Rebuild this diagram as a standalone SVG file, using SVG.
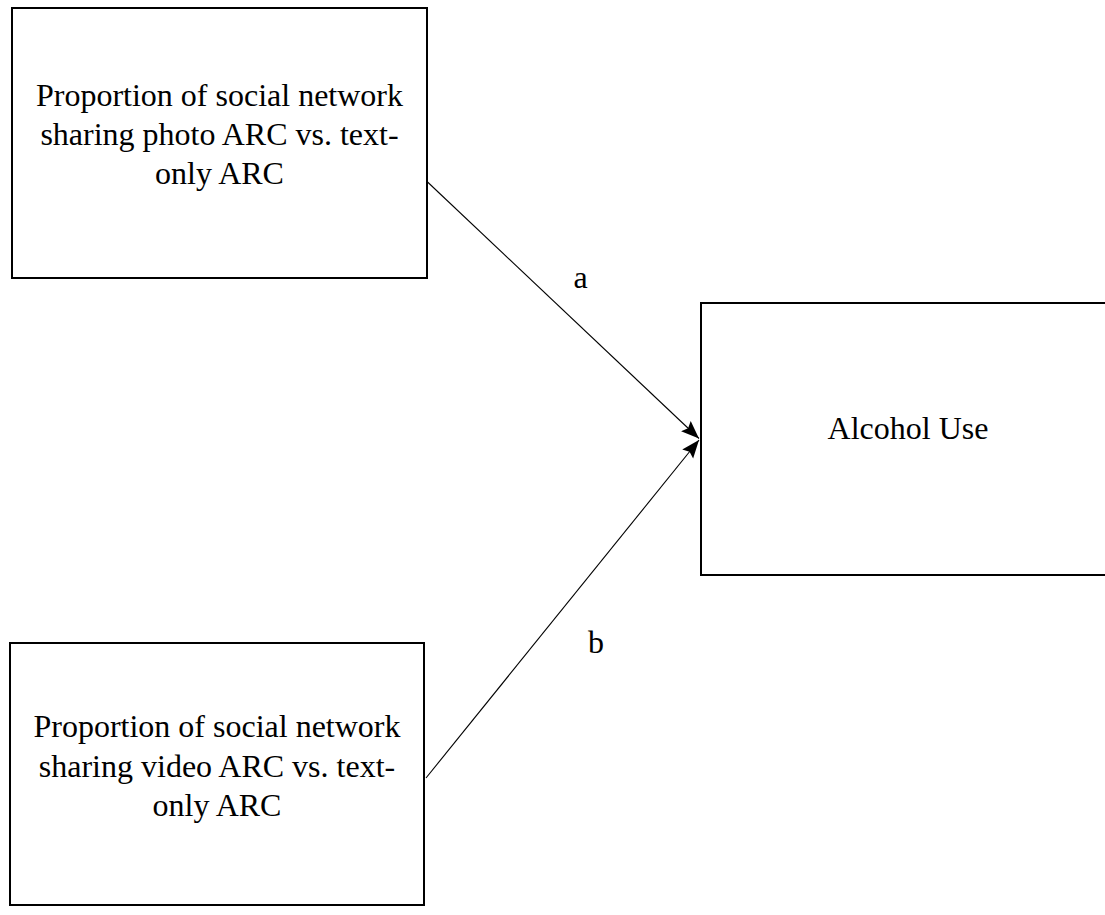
<svg xmlns="http://www.w3.org/2000/svg" width="1105" height="915" viewBox="0 0 1105 915">
  <style>
    .box { fill: #ffffff; stroke: #000000; stroke-width: 2; }
    .label { font-family: "Liberation Serif", "Times New Roman", serif; font-size: 32px; fill: #000000; text-anchor: middle; }
    .edge { stroke: #000000; stroke-width: 1.1; fill: none; marker-end: url(#arrow); }
  </style>
  <defs>
    <marker id="arrow" markerUnits="userSpaceOnUse" markerWidth="20" markerHeight="16" refX="18" refY="8" orient="auto">
      <path d="M0,1 L18,8 L0,15 L3,8 z" fill="#000000"/>
    </marker>
  </defs>
  <rect width="1105" height="915" fill="#ffffff"/>

  <!-- predictor: photo ARC -->
  <g id="node-photo">
    <rect class="box" x="12" y="8" width="415" height="270"/>
    <text class="label" x="219.5" y="106">Proportion of social network</text>
    <text class="label" x="219.5" y="145">sharing photo ARC vs. text-</text>
    <text class="label" x="219.5" y="184">only ARC</text>
  </g>

  <!-- predictor: video ARC -->
  <g id="node-video">
    <rect class="box" x="10" y="643" width="414" height="262"/>
    <text class="label" x="217" y="737">Proportion of social network</text>
    <text class="label" x="217" y="776.5">sharing video ARC vs. text-</text>
    <text class="label" x="217" y="816">only ARC</text>
  </g>

  <!-- outcome -->
  <g id="node-alcohol">
    <rect class="box" x="701" y="303" width="420" height="272"/>
    <text class="label" x="908" y="439">Alcohol Use</text>
  </g>

  <!-- paths a and b -->
  <g id="connectors">
    <line class="edge" x1="427" y1="181.5" x2="699" y2="438.5"/>
    <line class="edge" x1="426" y1="778" x2="699" y2="440"/>
    <text class="label" x="580.5" y="288">a</text>
    <text class="label" x="596" y="653">b</text>
  </g>
</svg>
